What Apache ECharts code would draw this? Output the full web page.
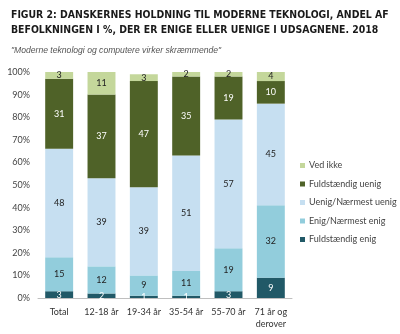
<!DOCTYPE html>
<html><head><meta charset="utf-8">
<script src="https://cdn.jsdelivr.net/npm/echarts@6/dist/echarts.min.js"></script>
<style>html,body{margin:0;padding:0;background:#fff}#c{width:400px;height:334px}</style>
</head><body><div id="c"></div>
<script>
const categories = ['Total','12-18 år','19-34 år','35-54 år','55-70 år','71 år og\nderover'];
const fuldstaendigEnig = [3, 2, 1, 1, 3, 9];
const enigNaermestEnig = [15, 12, 9, 11, 19, 32];
const uenigNaermestUenig = [48, 39, 39, 51, 57, 45];
const fuldstaendigUenig = [31, 37, 47, 35, 19, 10];
const vedIkke = [3, 11, 3, 2, 2, 4];
const yTicks = [0,10,20,30,40,50,60,70,80,90,100];

const font = 'Lato, "Open Sans", sans-serif';
function mk(name, data, color, labelColor) {
  return {
    name, type: 'bar', stack: 'a', data, barWidth: '66%', clip: true,
    itemStyle: { color },
    label: { show: true, position: 'inside', color: labelColor, fontSize: 9, fontFamily: font },
    emphasis: { disabled: true }
  };
}
const chart = echarts.init(document.getElementById('c'), null, { renderer: 'canvas' });
chart.setOption({
  animation: false,
  title: [
    { text: 'FIGUR 2: DANSKERNES HOLDNING TIL MODERNE TEKNOLOGI, ANDEL AF\nBEFOLKNINGEN I %, DER ER ENIGE ELLER UENIGE I UDSAGNENE. 2018',
      left: 6, top: 3,
      textStyle: { fontFamily: '"DejaVu Sans Condensed", "DejaVu Sans"', fontWeight: 'bold', fontSize: 10.4, color: '#1a1a1a', lineHeight: 15 } },
    { text: '"Moderne teknologi og computere virker skræmmende"',
      left: 6, top: 41,
      textStyle: { fontFamily: '"Liberation Sans", Arial, sans-serif', fontStyle: 'italic', fontWeight: 'normal', fontSize: 8.6, color: '#555' } }
  ],
  legend: {
    orient: 'vertical', left: 295, top: 156,
    itemWidth: 5, itemHeight: 5, itemGap: 9.5, icon: 'rect',
    textStyle: { fontFamily: font, fontSize: 9, color: '#444', padding: [0,0,0,-1] },
    data: ['Ved ikke','Fuldstændig uenig','Uenig/Nærmest uenig','Enig/Nærmest enig','Fuldstændig enig']
  },
  grid: { left: 38, right: 108, top: 72, bottom: 36, containLabel: false },
  xAxis: {
    type: 'category', data: categories,
    axisLine: { lineStyle: { color: '#bfbfbf' } },
    axisTick: { show: false },
    axisLabel: { interval: 0, color: '#333', fontSize: 9, fontFamily: font, margin: 8, lineHeight: 12 }
  },
  yAxis: {
    type: 'value', min: 0, max: 100, interval: 10,
    axisLine: { show: false }, axisTick: { show: false }, splitLine: { show: false },
    axisLabel: { color: '#444', fontSize: 9, fontFamily: font, margin: 8,
      formatter: v => yTicks.includes(v) ? v + '%' : '' }
  },
  series: [
    mk('Fuldstændig enig', fuldstaendigEnig, '#215967', '#fff'),
    mk('Enig/Nærmest enig', enigNaermestEnig, '#92cddc', '#222'),
    mk('Uenig/Nærmest uenig', uenigNaermestUenig, '#c6dff1', '#222'),
    mk('Fuldstændig uenig', fuldstaendigUenig, '#4f6228', '#fff'),
    mk('Ved ikke', vedIkke, '#c4d79b', '#222')
  ]
});
</script></body></html>
